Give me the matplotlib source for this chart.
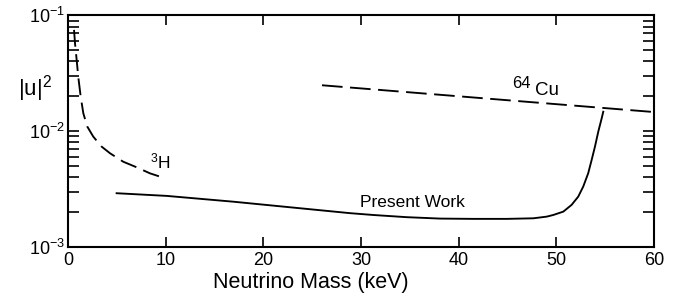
import matplotlib
matplotlib.use("Agg")
import matplotlib.pyplot as plt
from matplotlib.ticker import LogLocator, NullFormatter

plt.rcParams['font.family'] = ['Liberation Sans', 'DejaVu Sans']
plt.rcParams['mathtext.fontset'] = 'custom'
plt.rcParams['mathtext.rm'] = 'Liberation Sans'
plt.rcParams['mathtext.it'] = 'Liberation Sans'

# --- data ---
h3_mass = [0.62, 0.72, 0.89, 1.05, 1.30, 1.57, 1.98, 2.59, 3.45, 4.30,
           5.66, 7.03, 8.39, 9.75]
h3_u2 = [0.075, 0.0575, 0.0412, 0.0296, 0.0199, 0.01425, 0.01092, 0.00895,
         0.00733, 0.00643, 0.00543, 0.00486, 0.00431, 0.00395]

cu_mass = [26.0, 60.0]
cu_u2 = [0.0249, 0.0146]

pw_mass = [4.98, 10.10, 16.92, 23.75, 28.86, 31.25, 34.67, 38.08, 41.49,
           44.91, 47.64, 49.01, 49.67, 50.70, 51.55, 52.23, 52.74, 53.25,
           53.60, 53.94, 54.28, 54.63, 54.79]
pw_u2 = [2.90e-3, 2.75e-3, 2.45e-3, 2.15e-3, 1.95e-3, 1.88e-3, 1.80e-3,
         1.75e-3, 1.74e-3, 1.74e-3, 1.76e-3, 1.82e-3, 1.88e-3, 2.01e-3,
         2.30e-3, 2.71e-3, 3.31e-3, 4.32e-3, 5.62e-3, 7.33e-3, 9.88e-3,
         1.29e-2, 1.47e-2]

x_ticks = [0, 10, 20, 30, 40, 50, 60]
y_ticks = [1e-3, 1e-2, 1e-1]
y_tick_labels = [r'$10^{-3}$', r'$10^{-2}$', r'$10^{-1}$']

fig = plt.figure(figsize=(6.73, 2.97), dpi=100)
ax = fig.add_axes([0.101, 0.1694, 0.871, 0.7786])

lw = 1.35
ax.plot(h3_mass, h3_u2, color='black', lw=lw, dashes=(9, 4),
        solid_joinstyle='round', dash_joinstyle='round')
ax.plot(cu_mass, cu_u2, color='black', lw=lw, dashes=(11, 4))
ax.plot(pw_mass, pw_u2, color='black', lw=lw, solid_joinstyle='round')

ax.set_yscale('log')
ax.set_xlim(0, 60)
ax.set_ylim(1e-3, 1e-1)

ax.set_xticks(x_ticks)
ax.set_xticklabels([str(v) for v in x_ticks])
ax.set_yticks(y_ticks)
ax.set_yticklabels(y_tick_labels)
ax.yaxis.set_minor_locator(LogLocator(base=10, subs=range(2, 10)))
ax.yaxis.set_minor_formatter(NullFormatter())

ax.tick_params(axis='both', which='both', direction='in', top=True, right=True,
               color='black', width=1.2)
ax.tick_params(axis='x', which='major', length=7, labelsize=13, pad=4)
ax.tick_params(axis='y', which='major', length=8, labelsize=13, pad=2)
ax.tick_params(axis='y', which='minor', length=8)

for s in ax.spines.values():
    s.set_linewidth(1.5)

fig.text(311 / 673, 1 - 288 / 297, 'Neutrino Mass (keV)', fontsize=15.5,
         ha='center', va='baseline')
fig.text(35 / 673, 1 - 89 / 297, r'$|\mathrm{u}|^{2}$', fontsize=16,
         ha='center', va='center')

ax.text(8.4, 4.8e-3, r'$^{3}$H', fontsize=12.5, ha='left', va='baseline')
ax.text(45.5, 2.36e-2, '64', fontsize=12, ha='left', va='baseline')
ax.text(47.8, 2.05e-2, 'Cu', fontsize=13.5, ha='left', va='baseline')
ax.text(29.9, 2.22e-3, 'Present Work', fontsize=12.5, ha='left', va='baseline')

fig.savefig('out.png', dpi=100)
